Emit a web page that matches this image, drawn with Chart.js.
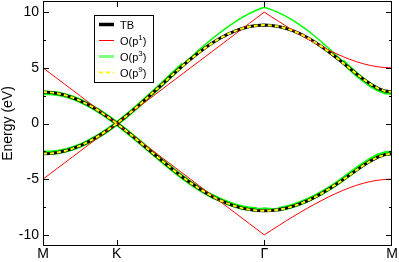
<!DOCTYPE html>
<html>
<head>
<meta charset="utf-8">
<script src="https://cdn.jsdelivr.net/npm/chart.js@4"></script>
<style>
  html, body { margin: 0; padding: 0; background: #fff; }
</style>
</head>
<body>
<canvas id="bands" width="399" height="262"></canvas>
<script>
// path coordinate along M-K-Gamma-M (|MK| = 1)
const kPath = [
  0, 0.1, 0.2, 0.3, 0.4, 0.5, 0.6, 0.7, 0.8, 0.9, 1.0,
  1.1, 1.2, 1.3, 1.4, 1.5, 1.6, 1.7, 1.8, 1.9, 2.0,
  2.1, 2.2, 2.3, 2.4, 2.5, 2.6, 2.7, 2.8, 2.9, 3.0,
  3.0962, 3.1925, 3.2887, 3.3849, 3.4811, 3.5774, 3.6736, 3.7698, 3.8660,
  3.9623, 4.0585, 4.1547, 4.2509, 4.3472, 4.4434, 4.5396, 4.6358, 4.7321
];
const kTicks = [0, 1, 3, 4.7321];
const kLabels = ['M', 'K', 'Γ', 'M'];
const energyTicks = [-10, -5, 0, 5, 10];

const tbUpper = [
  2.827, 2.795, 2.701, 2.545, 2.330, 2.058, 1.733, 1.360, 0.943, 0.488, 0,
  0.519, 1.066, 1.637, 2.226, 2.827, 3.432, 4.036, 4.632, 5.212, 5.771,
  6.300, 6.795, 7.247, 7.653, 8.005, 8.300, 8.534, 8.704, 8.806, 8.840,
  8.809, 8.714, 8.557, 8.340, 8.066, 7.738, 7.362, 6.942, 6.484,
  5.996, 5.488, 4.970, 4.456, 3.964, 3.520, 3.156, 2.913, 2.827
];
const tbLower = [
  -2.716, -2.686, -2.599, -2.455, -2.254, -1.999, -1.691, -1.334, -0.931, -0.485, 0,
  -0.515, -1.050, -1.600, -2.157, -2.716, -3.270, -3.814, -4.341, -4.847, -5.327,
  -5.775, -6.188, -6.561, -6.891, -7.176, -7.412, -7.598, -7.732, -7.813, -7.840,
  -7.815, -7.740, -7.616, -7.443, -7.224, -6.960, -6.654, -6.309, -5.929,
  -5.519, -5.085, -4.637, -4.186, -3.750, -3.350, -3.019, -2.795, -2.716
];
const p1Upper = [
  5.0, 4.5, 4.0, 3.5, 3.0, 2.5, 2.0, 1.5, 1.0, 0.5, 0,
  0.5, 1.0, 1.5, 2.0, 2.5, 3.0, 3.5, 4.0, 4.5, 5.0,
  5.5, 6.0, 6.5, 7.0, 7.5, 8.0, 8.5, 9.0, 9.5, 10.0,
  9.586, 9.179, 8.779, 8.388, 8.007, 7.638, 7.281, 6.939, 6.614,
  6.310, 6.028, 5.774, 5.549, 5.357, 5.204, 5.092, 5.023, 5.0
];
const p1Lower = [
  -5.0, -4.5, -4.0, -3.5, -3.0, -2.5, -2.0, -1.5, -1.0, -0.5, 0,
  -0.5, -1.0, -1.5, -2.0, -2.5, -3.0, -3.5, -4.0, -4.5, -5.0,
  -5.5, -6.0, -6.5, -7.0, -7.5, -8.0, -8.5, -9.0, -9.5, -10.0,
  -9.586, -9.179, -8.779, -8.388, -8.007, -7.638, -7.281, -6.939, -6.614,
  -6.310, -6.028, -5.774, -5.549, -5.357, -5.204, -5.092, -5.023, -5.0
];
const p3Upper = [
  2.750, 2.740, 2.670, 2.530, 2.320, 2.054, 1.731, 1.359, 0.943, 0.488, 0,
  0.519, 1.066, 1.639, 2.231, 2.837, 3.454, 4.076, 4.698, 5.315, 5.924,
  6.518, 7.094, 7.646, 8.169, 8.659, 9.111, 9.520, 9.881, 10.190, 10.441,
  10.229, 9.961, 9.643, 9.275, 8.860, 8.402, 7.903, 7.368, 6.805,
  6.212, 5.601, 4.994, 4.430, 3.910, 3.440, 3.070, 2.830, 2.750
];
const p3Lower = [
  -2.620, -2.620, -2.560, -2.430, -2.240, -1.993, -1.688, -1.333, -0.930, -0.485, 0,
  -0.515, -1.050, -1.600, -2.158, -2.718, -3.275, -3.821, -4.352, -4.860, -5.339,
  -5.784, -6.188, -6.545, -6.850, -7.130, -7.360, -7.540, -7.660, -7.700, -7.580,
  -7.660, -7.700, -7.570, -7.390, -7.170, -6.910, -6.610, -6.270, -5.890,
  -5.490, -5.040, -4.570, -4.100, -3.650, -3.250, -2.910, -2.700, -2.620
];
// O(p^9) lies on top of TB at this scale
const p9Upper = tbUpper.slice();
const p9Lower = tbLower.slice();

const FONT = '"Liberation Sans", Arial, sans-serif';

function pts(ys) {
  return ys.map((y, i) => ({ x: kPath[i], y: y }));
}

function band(label, ys, color, width, dash, order, inLegend) {
  return {
    label: label,
    data: pts(ys),
    borderColor: color,
    backgroundColor: color,
    borderWidth: width,
    borderDash: dash,
    pointRadius: 0,
    tension: 0,
    fill: false,
    order: order,
    inLegend: inLegend
  };
}

// the green curve shows as a rim round the TB band where they coincide
function rimWidth(ref) {
  return ctx => {
    const i = ctx.p0DataIndex;
    const d = Math.max(Math.abs(ctx.p0.parsed.y - ref[i]), Math.abs(ctx.p1.parsed.y - ref[i + 1]));
    return d < 0.12 ? 4.5 : 1.5;
  };
}

const green3Up = band('O(p^3)', p3Upper, '#00ff00', 1.5, [], 3, true);
green3Up.segment = { borderWidth: rimWidth(tbUpper) };
const green3Lo = band('O(p^3)', p3Lower, '#00ff00', 1.5, [], 3, false);
green3Lo.segment = { borderWidth: rimWidth(tbLower) };

const datasets = [
  band('O(p^9)', p9Upper, '#ffff00', 2, [4, 3], 0, true),
  band('O(p^9)', p9Lower, '#ffff00', 2, [4, 3], 0, false),
  band('O(p^1)', p1Upper, '#ff0000', 1, [], 1, true),
  band('O(p^1)', p1Lower, '#ff0000', 1, [], 1, false),
  band('TB', tbUpper, '#000000', 3, [], 2, true),
  band('TB', tbLower, '#000000', 3, [], 2, false),
  green3Up,
  green3Lo
];

// inward ticks and closed frame
const frameTicks = {
  id: 'frameTicks',
  afterDatasetsDraw(chart) {
    const { ctx, chartArea: a, scales: { x, y } } = chart;
    ctx.save();
    ctx.strokeStyle = '#000';
    ctx.lineWidth = 1;
    ctx.beginPath();
    const seg = (x1, y1, x2, y2) => { ctx.moveTo(x1, y1); ctx.lineTo(x2, y2); };
    for (let v = -10; v <= 10; v += 2.5) {
      const py = Math.round(y.getPixelForValue(v)) + 0.5;
      const len = energyTicks.includes(v) ? 6 : 3;
      seg(a.left, py, a.left + len, py);
      seg(a.right, py, a.right - len, py);
    }
    kTicks.slice(1, -1).forEach(v => {
      const px = Math.round(x.getPixelForValue(v)) + 0.5;
      seg(px, a.top, px, a.top + 6);
      seg(px, a.bottom, px, a.bottom - 6);
    });
    ctx.stroke();
    ctx.strokeRect(a.left + 0.5, a.top + 0.5, a.width - 1, a.height - 1);
    ctx.restore();
  }
};

// boxed legend inside the plot, upper left
const boxLegend = {
  id: 'boxLegend',
  afterDraw(chart) {
    const ctx = chart.ctx;
    const items = chart.data.datasets.filter(d => d.inLegend);
    const order = ['TB', 'O(p^1)', 'O(p^3)', 'O(p^9)'];
    items.sort((a, b) => order.indexOf(a.label) - order.indexOf(b.label));
    const bx = 94, by = 15, bw = 59, bh = 67;
    ctx.save();
    ctx.fillStyle = '#fff';
    ctx.fillRect(bx, by, bw, bh);
    ctx.strokeStyle = '#000';
    ctx.lineWidth = 1;
    ctx.strokeRect(bx + 0.5, by + 0.5, bw, bh);
    items.forEach((d, i) => {
      const cy = by + 9.5 + i * 16;
      ctx.beginPath();
      ctx.strokeStyle = d.label === 'O(p^3)' ? '#80ff80' : d.borderColor;
      ctx.lineWidth = d.label === 'O(p^3)' ? 3 : (d.label === 'TB' ? 3.5 : d.borderWidth);
      ctx.setLineDash(d.borderDash);
      ctx.moveTo(99, cy);
      ctx.lineTo(114, cy);
      ctx.stroke();
      ctx.setLineDash([]);
      ctx.fillStyle = '#000';
      ctx.textBaseline = 'middle';
      const m = d.label.match(/^(.*)\^(\d+)(.*)$/);
      let tx = 120;
      if (m) {
        ctx.font = '11px ' + FONT;
        ctx.fillText(m[1], tx, cy + 1);
        tx += ctx.measureText(m[1]).width;
        ctx.font = '8px ' + FONT;
        ctx.fillText(m[2], tx, cy - 3);
        tx += ctx.measureText(m[2]).width;
        ctx.font = '11px ' + FONT;
        ctx.fillText(m[3], tx, cy + 1);
      } else {
        ctx.font = '11px ' + FONT;
        ctx.fillText(d.label, tx, cy + 1);
      }
    });
    ctx.restore();
  }
};

function zeroPad(s) {
  s.paddingTop = 0; s.paddingBottom = 0; s.paddingLeft = 0; s.paddingRight = 0;
}

new Chart(document.getElementById('bands'), {
  type: 'line',
  data: { datasets: datasets },
  options: {
    responsive: false,
    devicePixelRatio: 1,
    animation: false,
    layout: { padding: { top: 1, right: 7, left: 0, bottom: 0 } },
    plugins: { legend: { display: false }, tooltip: { enabled: false } },
    scales: {
      x: {
        type: 'linear',
        min: 0,
        max: 4.7321,
        grid: { display: false, drawTicks: false },
        border: { display: false },
        afterBuildTicks: s => { s.ticks = kTicks.map(v => ({ value: v })); },
        afterFit: s => { s.height = 16; zeroPad(s); },
        ticks: {
          autoSkip: false,
          maxRotation: 0,
          padding: 0,
          color: '#000',
          font: { family: FONT, size: 14 },
          callback: v => {
            const i = kTicks.findIndex(t => Math.abs(t - v) < 1e-6);
            return i >= 0 ? kLabels[i] : '';
          }
        }
      },
      y: {
        min: -11,
        max: 11,
        grid: { display: false, drawTicks: false },
        border: { display: false },
        afterBuildTicks: s => { s.ticks = energyTicks.map(v => ({ value: v })); },
        afterFit: s => { s.width = 43; zeroPad(s); },
        ticks: {
          padding: 4,
          color: '#000',
          font: { family: FONT, size: 14 }
        },
        title: {
          display: true,
          text: 'Energy (eV)',
          color: '#000',
          padding: 0,
          font: { family: FONT, size: 14 }
        }
      }
    }
  },
  plugins: [frameTicks, boxLegend]
});
</script>
</body>
</html>
